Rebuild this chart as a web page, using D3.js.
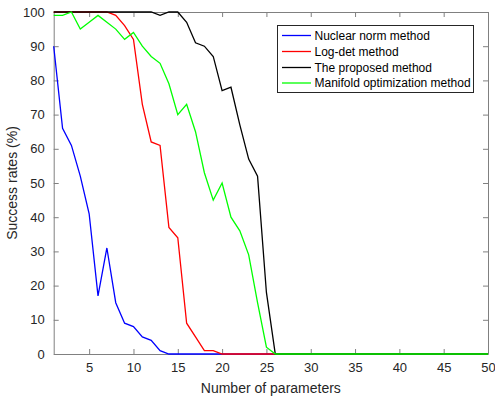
<!DOCTYPE html>
<html>
<head>
<meta charset="utf-8">
<script src="https://cdn.jsdelivr.net/npm/d3@7"></script>
<style>
body{margin:0;background:#fff;}
svg{display:block;font-family:"Liberation Sans",Arial,sans-serif;}
</style>
</head>
<body>
<svg id="chart" width="495" height="401"></svg>
<script>
const params = d3.range(1, 51);
const nuclear = [90,66,61,52,41,17,31,15,9,8,5,4,1,0,0,0,0,0,0,0,0,0,0,0,0,0,0,0,0,0,0,0,0,0,0,0,0,0,0,0,0,0,0,0,0,0,0,0,0,0];
const logdet  = [100,100,100,100,100,100,100,99,96,92,73,62,61,37,34,9,5,1,1,0,0,0,0,0,0,0,0,0,0,0,0,0,0,0,0,0,0,0,0,0,0,0,0,0,0,0,0,0,0,0];
const proposed= [100,100,100,100,100,100,100,100,100,100,100,100,99,100,100,97,91,90,87,77,78,67,57,52,18,0,0,0,0,0,0,0,0,0,0,0,0,0,0,0,0,0,0,0,0,0,0,0,0,0];
const manifold= [99,99,100,95,97,99,97,95,92,94,90,87,85,79,70,73,65,53,45,50,40,36,29,15,2,0,0,0,0,0,0,0,0,0,0,0,0,0,0,0,0,0,0,0,0,0,0,0,0,0];
const seriesNames = ["Nuclear norm method","Log-det method","The proposed method","Manifold optimization method"];
const seriesColors = ["#0000ff","#ff0000","#000000","#00ff00"];
const seriesData = [nuclear, logdet, proposed, manifold];
const xTicks = [5,10,15,20,25,30,35,40,45,50];
const yTicks = [0,10,20,30,40,50,60,70,80,90,100];

const svg = d3.select("#chart");
const L = 53.7, R = 488, T = 12, B = 354;
const x = d3.scaleLinear().domain([1,50]).range([L,R]);
const y = d3.scaleLinear().domain([0,100]).range([B,T]);
const axisColor = "#808080";
const textColor = "#262626";

// axes with inward ticks
function styleAxis(g){
  g.select(".domain").attr("stroke", axisColor);
  g.selectAll(".tick line").attr("stroke", axisColor);
  g.selectAll(".tick text").attr("fill", textColor).style("font-size","13px").style("font-family","Liberation Sans, Arial, sans-serif");
}
const xb = svg.append("g").attr("transform",`translate(0,${B})`)
  .call(d3.axisBottom(x).tickValues(xTicks).tickSizeInner(-5).tickSizeOuter(0).tickPadding(9));
styleAxis(xb);
const xt = svg.append("g").attr("transform",`translate(0,${T})`)
  .call(d3.axisTop(x).tickValues(xTicks).tickSizeInner(-5).tickSizeOuter(0).tickFormat(""));
styleAxis(xt);
const yl = svg.append("g").attr("transform",`translate(${L},0)`)
  .call(d3.axisLeft(y).tickValues(yTicks).tickSizeInner(-5).tickSizeOuter(0).tickPadding(9));
styleAxis(yl);
const yr = svg.append("g").attr("transform",`translate(${R},0)`)
  .call(d3.axisRight(y).tickValues(yTicks).tickSizeInner(-5).tickSizeOuter(0).tickFormat(""));
styleAxis(yr);

// series (drawn over the axes)
const line = d3.line().x((d,i)=>x(params[i])).y(d=>y(d));
seriesData.forEach((s,k)=>{
  svg.append("path").datum(s).attr("d", line)
    .attr("fill","none").attr("stroke", seriesColors[k]).attr("stroke-width",1.3);
});

// axis labels
svg.append("text").attr("x",(L+R)/2).attr("y",393).attr("text-anchor","middle")
  .attr("fill",textColor).style("font-size","14px").text("Number of parameters");
svg.append("text").attr("transform",`translate(17,${(T+B)/2}) rotate(-90)`).attr("text-anchor","middle")
  .attr("fill",textColor).style("font-size","14px").text("Success rates (%)");

// legend
const lg = svg.append("g");
lg.append("rect").attr("x",277.5).attr("y",25.5).attr("width",196).attr("height",67)
  .attr("fill","#fff").attr("stroke","#262626").attr("stroke-width",1);
const rowY = [35.5,51.5,67.5,83];
seriesNames.forEach((n,k)=>{
  lg.append("line").attr("x1",282).attr("x2",311).attr("y1",rowY[k]).attr("y2",rowY[k])
    .attr("stroke",seriesColors[k]).attr("stroke-width",1.3);
  lg.append("text").attr("x",314.5).attr("y",rowY[k]+4.3).attr("fill","#000")
    .style("font-size","12px").text(n);
});
</script>
</body>
</html>
